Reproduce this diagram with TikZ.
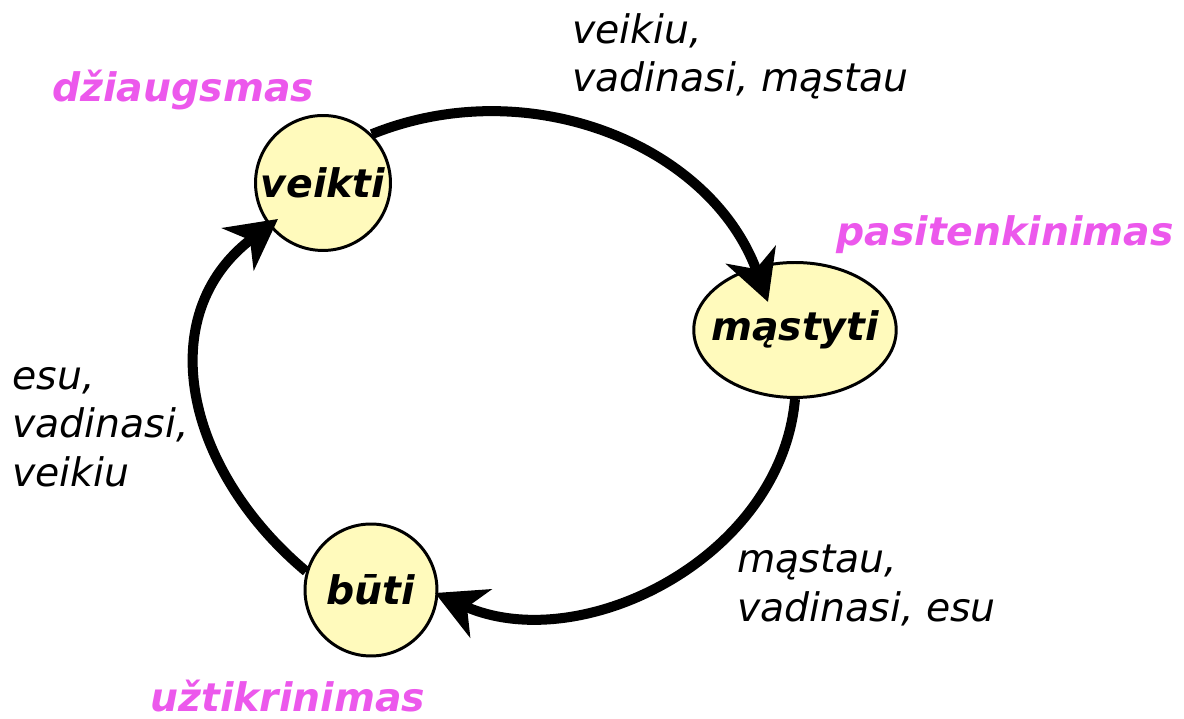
\documentclass[tikz,border=0pt]{standalone}
\usepackage{fontspec}
\setmainfont{DejaVu Sans}[ItalicFont={DejaVu Sans Oblique},BoldItalicFont={DejaVu Sans Bold Oblique}]
\usepackage{tikz}
\usetikzlibrary{arrows.meta,shapes.geometric}
\definecolor{stateyellow}{RGB}{255,250,188}
\definecolor{moodpink}{RGB}{236,88,236}
\newcommand{\diagfont}{\fontsize{22.4pt}{27.6pt}\selectfont}

\begin{document}
\begin{tikzpicture}[x=0.02cm,y=0.02cm,
    state/.style={draw,line width=1.7pt,fill=stateyellow,inner sep=0pt,font=\diagfont\bfseries\itshape},
    mood/.style={anchor=base west,inner sep=0pt,text=moodpink,font=\diagfont\bfseries\itshape},
    say/.style={anchor=north west,inner sep=0pt,align=left,font=\diagfont\itshape},
    flow/.style={line width=5.7pt,-{Stealth[length=1cm,width=1.05cm,inset=0.3cm]}}]
                \useasboundingbox (0,0) rectangle (1184,719);
                \node[state,circle,minimum size=2.7cm] (veikti) at (323,536) {veikti};
                \node[state,ellipse,inner xsep=-7pt,minimum width=4cm,minimum height=2.7cm] (mastyti) at (795,389) {mąstyti};
                \node[state,circle,minimum size=2.64cm] (buti) at (371,129) {būti};
                \draw[flow] (veikti.45) to[out=22,in=110] ([shift={(-27,28)}]mastyti.center);
                \draw[flow] (mastyti.south) to[out=-95,in=-24] ([shift={(64,-3)}]buti.center);
                \draw[flow] (buti.164) to[out=140,in=217,looseness=1.15] ([shift={(-45,-36)}]veikti.center);
                \node[mood] (joy) at (52,617) {džiaugsmas};
                \node[mood] (content) at (836,473) {pasitenkinimas};
                \node[mood] (certainty) at (150,7) {užtikrinimas};
                \node[say] (act) at (572,706) {veikiu,\\vadinasi, mąstau};
                \node[say] (think) at (737,174) {mąstau,\\vadinasi, esu};
                \node[say] (be) at (12,352) {esu,\\vadinasi,\\veikiu};
                \end{tikzpicture}
\end{document}
